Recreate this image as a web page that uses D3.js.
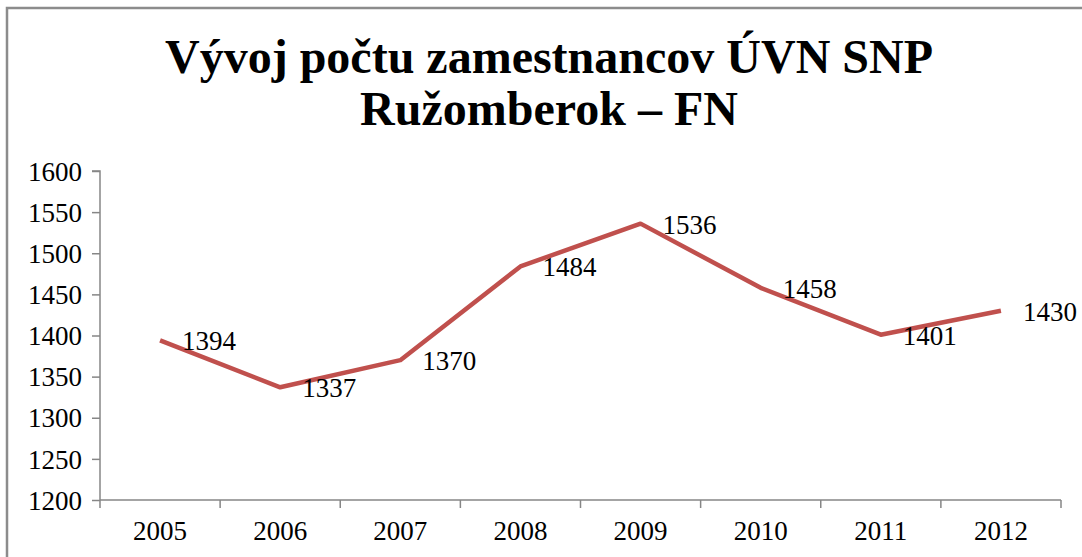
<!DOCTYPE html>
<html>
<head>
<meta charset="utf-8">
<script src="https://cdn.jsdelivr.net/npm/d3@7"></script>
<style>
  body { margin: 0; background: #fff; }
  svg { display: block; }
  svg text { font-family: "Liberation Serif", "Times New Roman", serif !important; fill: #000; }
</style>
</head>
<body>
<svg id="chart" width="1082" height="557"></svg>
<script>
// data
const years = ["2005", "2006", "2007", "2008", "2009", "2010", "2011", "2012"];
const employees = [1394, 1337, 1370, 1484, 1536, 1458, 1401, 1430];
const yTicks = [1200, 1250, 1300, 1350, 1400, 1450, 1500, 1550, 1600];
const titleLines = ["Vývoj počtu zamestnancov ÚVN SNP", "Ružomberok – FN"];

const width = 1082, height = 557;
const margin = { top: 171, right: 21, bottom: 57, left: 100 };

const svg = d3.select("#chart");

// outer chart border (cropped on right/bottom)
svg.append("rect")
    .attr("x", 7).attr("y", 8)
    .attr("width", width + 20).attr("height", height + 20)
    .attr("fill", "#fff")
    .attr("stroke", "#8c8c8c")
    .attr("stroke-width", 2.5);

// title
svg.append("g")
    .selectAll("text")
    .data(titleLines)
    .join("text")
    .attr("x", 549)
    .attr("y", (d, i) => 73 + i * 52)
    .attr("text-anchor", "middle")
    .style("font-size", "48px")
    .style("font-weight", "bold")
    .text(d => d);

const x = d3.scaleBand()
    .domain(years)
    .range([margin.left, width - margin.right])
    .padding(0);

const y = d3.scaleLinear()
    .domain([1200, 1600])
    .range([height - margin.bottom, margin.top]);

// y axis
const yAxis = svg.append("g")
    .attr("transform", `translate(${margin.left},0)`)
    .call(d3.axisLeft(y).tickValues(yTicks).tickFormat(d3.format("d")).tickSize(8).tickPadding(10));
yAxis.selectAll("text").style("font-size", "27px").attr("dy", "0.34em");

// x axis with ticks between categories
const xAxis = svg.append("g")
    .attr("transform", `translate(0,${height - margin.bottom})`)
    .call(d3.axisBottom(x).tickSize(0).tickPadding(21));
xAxis.selectAll("text").style("font-size", "27px");
xAxis.selectAll(".tick line").remove();
xAxis.append("g")
    .selectAll("line")
    .data(years.concat(["end"]))
    .join("line")
    .attr("x1", (d, i) => margin.left + i * x.bandwidth())
    .attr("x2", (d, i) => margin.left + i * x.bandwidth())
    .attr("y1", 0).attr("y2", 8);

svg.selectAll(".domain, .tick line, g line").attr("stroke", "#868686").attr("stroke-width", 1.5);
yAxis.select(".domain").attr("d", `M${-8},${margin.top}H0V${height - margin.bottom}`);
xAxis.select(".domain").attr("d", `M${margin.left},0H${width - margin.right}`);

// line
const line = d3.line()
    .x((d, i) => x(years[i]) + x.bandwidth() / 2)
    .y(d => y(d));

svg.append("path")
    .datum(employees)
    .attr("fill", "none")
    .attr("stroke", "#c0504d")
    .attr("stroke-width", 4.5)
    .attr("stroke-linejoin", "round")
    .attr("d", line);

// data labels (right of point)
svg.append("g")
    .selectAll("text")
    .data(employees)
    .join("text")
    .attr("x", (d, i) => x(years[i]) + x.bandwidth() / 2 + 22)
    .attr("y", d => y(d) + 10)
    .style("font-size", "27px")
    .text(d => d);
</script>
</body>
</html>
